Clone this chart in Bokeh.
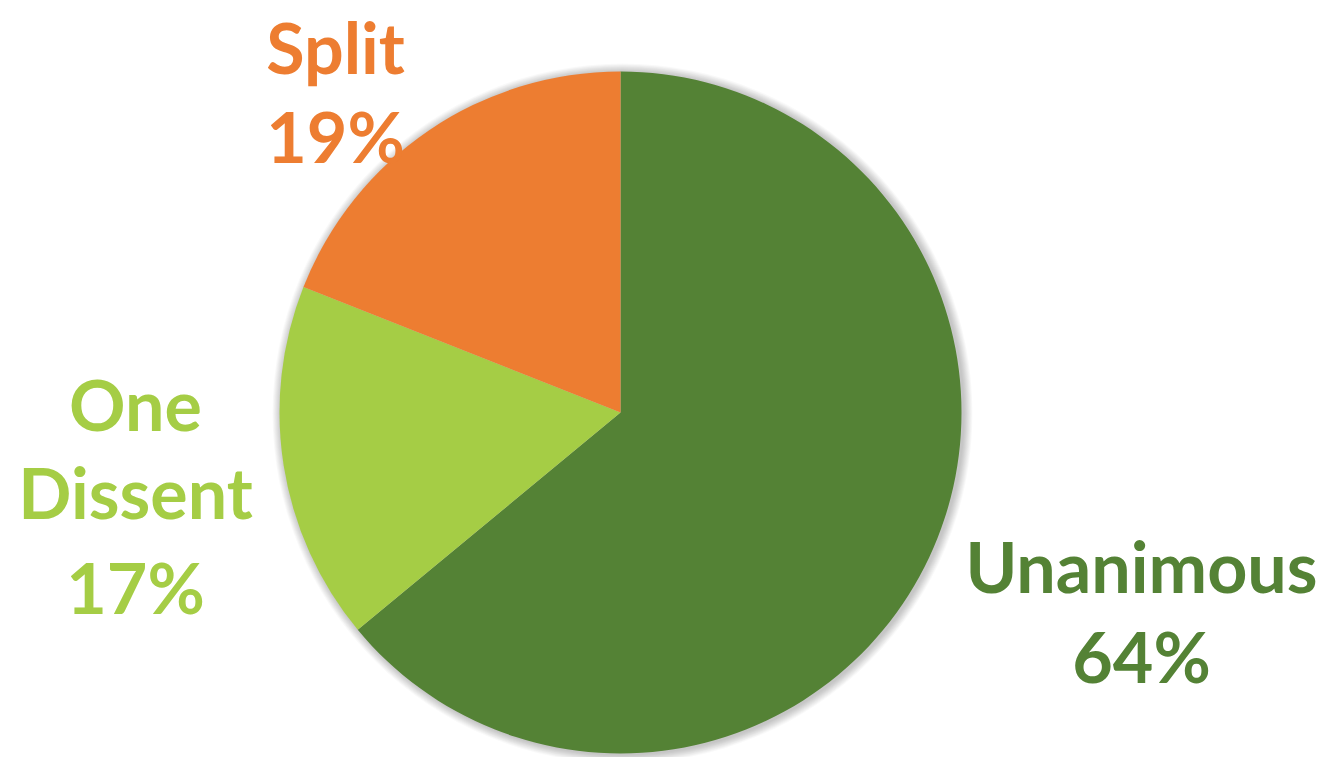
import numpy as np
from bokeh.plotting import figure
from bokeh.models import ColumnDataSource, Range1d
from bokeh.core.properties import value
from bokeh.embed import file_html
from bokeh.resources import INLINE

categories = ["Unanimous", "One Dissent", "Split"]
shares = [64, 17, 19]
colors = ["#548235", "#A5CD45", "#ED7D31"]

W, H = 1332, 757
cx, cy, r = 620, 757 - 412, 341

p = figure(width=W, height=H, x_range=Range1d(0, W), y_range=Range1d(0, H),
           output_backend="svg", toolbar_location=None, min_border=0)
p.axis.visible = False
p.grid.visible = False
p.outline_line_color = None
p.background_fill_color = "white"

# soft shadow
for i in range(10, 0, -1):
    p.circle(x=cx + 2, y=cy - 1, radius=r + i * 0.9, fill_color="black",
             fill_alpha=0.025, line_color=None)

frac = np.array(shares, dtype=float) / sum(shares)
ends = np.pi / 2 - 2 * np.pi * np.cumsum(frac)
starts = np.concatenate([[np.pi / 2], ends[:-1]])
src = ColumnDataSource(dict(cat=categories, start=starts, end=ends, color=colors))
p.wedge(x=cx, y=cy, radius=r, start_angle="start", end_angle="end",
        direction="clock", fill_color="color", line_color=None, source=src)

label_lines = [["Unanimous", f"{shares[0]}%"],
               ["One", "Dissent", f"{shares[1]}%"],
               ["Split", f"{shares[2]}%"]]
label_pos = [(1141, [192, 102]), (135, [354, 266, 171]), (335, [711, 622])]
tx, ty, tt, tc = [], [], [], []
for lines, (x, ys), c in zip(label_lines, label_pos, colors):
    for t, y in zip(lines, ys):
        tx.append(x); ty.append(y); tt.append(t); tc.append(c)
p.text(x=tx, y=ty, text=tt, text_color=tc, text_font=value("Lato"),
       text_font_style="bold", text_font_size="70px", text_align="center",
       text_baseline="middle")

open("out.html", "w").write(file_html(p, INLINE))
